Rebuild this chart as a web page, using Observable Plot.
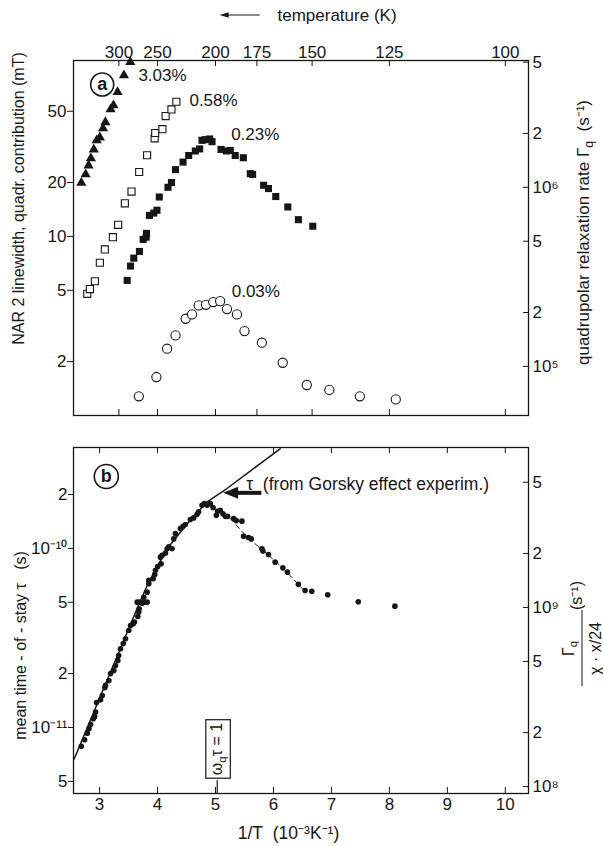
<!DOCTYPE html>
<html>
<head>
<meta charset="utf-8">
<script src="https://cdn.jsdelivr.net/npm/d3@7"></script>
<script src="https://cdn.jsdelivr.net/npm/@observablehq/plot@0.6"></script>
<style>
  html, body { margin: 0; padding: 0; background: #fff; }
  #chart { width: 603px; height: 846px; position: relative; }
  #chart svg { display: block; }
</style>
</head>
<body>
<div id="chart"></div>
<script>
// ---------------- data ----------------
const xDomain = [2.55, 10.4];          // 1/T (10^-3 K^-1)
const xTicks = [3, 4, 5, 6, 7, 8, 9, 10];
const tempTicksK = [300, 250, 200, 175, 150, 125, 100];

// panel (a): NAR 2 linewidth, quadrupolar contribution (mT)
const lwDomain = [1, 96];
const lwTicks = [2, 5, 10, 20, 50];
const rateTicksA = [1e5, 2e5, 5e5, 1e6, 2e6, 5e6];   // Γq (s^-1)
const rateFactorA = 5.32e4;                           // Γq per mT

const tri303 = [[2.685,19.9],[2.76,22.2],[2.81,24.9],[2.85,27.3],[2.90,30.6],[2.95,34.4],[3.005,35.7],[3.06,40.1],[3.10,43.4],[3.19,51.2],[3.24,53.9],[3.31,64.0],[3.42,79.3],[3.53,94.1]];
const openSq058 = [[2.788,4.78],[2.833,5.08],[2.919,5.62],[3.005,7.13],[3.091,8.46],[3.229,9.9],[3.32,11.6],[3.436,15.3],[3.551,17.8],[3.683,22.9],[3.82,28.4],[3.95,35.3],[3.96,37.8],[4.084,39.7],[4.14,47.0],[4.24,51.2],[4.325,56.5]];
const fillSq023 = [[3.476,5.68],[3.534,6.83],[3.59,7.56],[3.688,8.24],[3.752,9.62],[3.804,9.9],[3.81,10.4],[3.86,13.1],[3.935,13.5],[3.99,14.0],[4.03,16.6],[4.18,18.8],[4.24,20.0],[4.31,23.6],[4.44,26.0],[4.537,28.3],[4.652,30.0],[4.726,30.8],[4.767,34.4],[4.824,34.7],[4.90,35.0],[4.94,33.8],[5.095,30.6],[5.186,30.0],[5.255,30.2],[5.34,28.3],[5.48,27.5],[5.60,22.4],[5.64,22.2],[5.83,19.3],[5.914,18.5],[6.04,16.7],[6.248,14.6],[6.43,12.4],[6.678,11.4]];
const openCirc003 = [[3.677,1.28],[3.98,1.64],[4.165,2.36],[4.31,2.80],[4.485,3.47],[4.595,3.67],[4.71,4.12],[4.836,4.15],[4.96,4.30],[5.08,4.35],[5.198,3.93],[5.37,3.67],[5.50,2.96],[5.80,2.55],[6.16,1.97],[6.575,1.48],[6.964,1.39],[7.49,1.28],[8.11,1.23]];
const seriesLabels = [
  {x: 3.67, y: 79.4, label: "3.03%"},
  {x: 4.55, y: 57.0, label: "0.58%"},
  {x: 5.27, y: 37.1, label: "0.23%"},
  {x: 5.28, y: 4.95, label: "0.03%"}
];

// panel (b): mean time-of-stay τ (s)
const tauDomain = [4.28e-12, 3.66e-10];
const tauTicks = [5e-12, 1e-11, 2e-11, 5e-11, 1e-10, 2e-10];
const rateTicksB = [1e8, 2e8, 5e8, 1e9, 2e9, 5e9];   // Γq/(χ·x/24) (s^-1)
const tauPerRate = 4.68e-20;

const tauPoints = [[2.685,7.86e-12],[2.742,8.54e-12],[2.788,9.29e-12],[2.816,9.84e-12],[2.845,1.04e-11],[2.892,1.12e-11],[2.914,1.15e-11],[2.931,1.22e-11],[2.948,1.38e-11],[3.017,1.43e-11],[3.046,1.51e-11],[3.091,1.67e-11],[3.103,1.72e-11],[3.16,1.83e-11],[3.189,2.00e-11],[3.246,2.08e-11],[3.275,2.22e-11],[3.315,2.37e-11],[3.33,2.52e-11],[3.361,2.75e-11],[3.408,2.94e-11],[3.447,3.13e-11],[3.504,3.48e-11],[3.534,3.71e-11],[3.58,3.80e-11],[3.602,3.88e-11],[3.659,4.17e-11],[3.676,4.41e-11],[3.683,4.60e-11],[3.649,5.01e-11],[3.694,5.01e-11],[3.735,4.94e-11],[3.762,5.01e-11],[3.821,5.01e-11],[3.762,5.34e-11],[3.821,5.70e-11],[3.849,6.35e-11],[3.849,6.63e-11],[3.924,6.77e-11],[3.952,7.16e-11],[3.964,7.54e-11],[4.003,7.93e-11],[4.062,8.21e-11],[4.05,8.94e-11],[4.079,9.14e-11],[4.136,9.41e-11],[4.165,9.96e-11],[4.193,1.02e-10],[4.251,9.96e-11],[4.279,1.13e-10],[4.308,1.21e-10],[4.394,1.29e-10],[4.44,1.33e-10],[4.48,1.36e-10],[4.566,1.45e-10],[4.623,1.48e-10],[4.682,1.55e-10],[4.709,1.60e-10],[4.768,1.74e-10],[4.807,1.78e-10],[4.854,1.74e-10],[4.91,1.78e-10],[4.957,1.69e-10],[5.014,1.53e-10],[5.036,1.61e-10],[5.083,1.63e-10],[5.129,1.56e-10],[5.169,1.51e-10],[5.208,1.51e-10],[5.312,1.47e-10],[5.358,1.43e-10],[5.456,1.42e-10],[5.484,1.17e-10],[5.57,1.15e-10],[5.616,1.13e-10],[5.80,9.96e-11],[5.818,9.66e-11],[5.914,9.25e-11],[6.029,8.38e-11],[6.162,7.79e-11],[6.241,7.37e-11],[6.43,6.30e-11],[6.546,5.82e-11],[6.661,5.77e-11],[6.936,5.51e-11],[7.463,5.04e-11],[8.095,4.76e-11]];
const gorskyLine = [[2.553,6.62e-12],[2.587,6.98e-12],[3.189,2.04e-11],[3.706,5.12e-11],[3.849,6.49e-11],[4.165,9.96e-11],[4.509,1.37e-10],[4.854,1.82e-10],[5.198,2.16e-10],[5.656,2.79e-10],[6.115,3.60e-10]];
const dashFit = [[4.854,1.78e-10],[5.255,1.47e-10],[5.542,1.16e-10],[5.886,9.34e-11],[6.172,7.71e-11],[6.528,5.82e-11]];
const omegaQX = 5.03;
const gorskyNote = [{x: 5.53, y: 2.28e-10, label: "τ  (from Gorsky effect experim.)"}];
const gorskyArrow = {from: 5.80, to: 5.14, y: 2.03e-10};

// ---------------- helpers ----------------
const FONT = "'Liberation Sans', Helvetica, Arial, sans-serif";
const NARROW = "'Liberation Sans Narrow', 'Liberation Sans', Arial, sans-serif";
const INK = "#161616";
const FS = 17;
const SUP = {"-": "⁻", "0": "⁰", "1": "¹", "2": "²", "3": "³", "4": "⁴", "5": "⁵", "6": "⁶", "7": "⁷", "8": "⁸", "9": "⁹"};
const sup = s => String(s).split("").map(c => SUP[c] ?? c).join("");
function logLabel(v) {
  const e = Math.floor(Math.log10(v) + 1e-6);
  const m = Math.round(v / Math.pow(10, e));
  return m === 1 ? "10" + sup(e) : String(m);
}
const px = d => d[0], py = d => d[1];
const MID = {textAnchor: "middle", lineAnchor: "middle"};

const W = 603, ML = 73, MR = 75;
const FW = W - ML - MR;
const H1 = 440, MT1 = 60, MB1 = 25, FH1 = H1 - MT1 - MB1;
const H2 = 406, MT2 = 7, MB2 = 53, FH2 = H2 - MT2 - MB2;
const tempX = tempTicksK.map(t => 1000 / t);

// ---------------- panel (a) ----------------
const p1 = Plot.plot({
  width: W, height: H1,
  marginLeft: ML, marginRight: MR, marginTop: MT1, marginBottom: MB1,
  style: {fontFamily: FONT, fontSize: FS + "px", color: INK, background: "white", overflow: "visible"},
  x: {domain: xDomain},
  y: {type: "log", domain: lwDomain},
  marks: [
    Plot.frame({stroke: INK, strokeWidth: 1.3}),
    Plot.axisX(tempX, {anchor: "top", tickSize: 0, tickPadding: 3, label: null, fontSize: FS, tickFormat: d => String(Math.round(1000 / d))}),
    Plot.tickX(tempX, {x: d => d, insetBottom: FH1 - 6, stroke: INK}),
    Plot.tickX(tempX, {x: d => d, insetTop: FH1 - 6, stroke: INK}),
    Plot.axisY(lwTicks, {anchor: "left", tickSize: 6, tickPadding: 1, label: null, fontSize: FS, tickFormat: d => String(d)}),
    Plot.tickY(rateTicksA, {y: r => r / rateFactorA, insetLeft: FW - 5, stroke: INK}),
    Plot.text(rateTicksA, {y: r => r / rateFactorA, frameAnchor: "right", dx: 4, textAnchor: "start", lineAnchor: "middle", text: logLabel, fontSize: FS}),
    Plot.dot(openCirc003, {x: px, y: py, r: 4.6, stroke: INK, strokeWidth: 1.1, fill: "white"}),
    Plot.dot(openSq058, {x: px, y: py, symbol: "square", r: 4.0, stroke: INK, strokeWidth: 1.1, fill: "white"}),
    Plot.dot(fillSq023, {x: px, y: py, symbol: "square", r: 4.0, fill: INK}),
    Plot.dot(tri303, {x: px, y: py, symbol: "triangle", r: 3.8, fill: INK}),
    Plot.text(seriesLabels, {x: "x", y: "y", text: "label", textAnchor: "start", fontSize: FS}),
    Plot.dot(["a"], {x: null, y: null, frameAnchor: "top-left", dx: 28.7, dy: 24, r: 11.5, stroke: INK, strokeWidth: 1.6}),
    Plot.text(["a"], {frameAnchor: "top-left", dx: 28.7, dy: 23.5, text: d => d, fontSize: 18, fontWeight: "bold", ...MID}),
    Plot.text(["temperature (K)"], {frameAnchor: "top-left", dx: 204, dy: -45, text: d => d, textAnchor: "start", lineAnchor: "middle", fontSize: FS}),
    Plot.text(["NAR 2 linewidth, quadr. contribution (mT)"], {frameAnchor: "top-left", dx: -55, dy: 138, rotate: -90, text: d => d, fontSize: 16, fontFamily: NARROW, ...MID}),
    Plot.text(["quadrupolar relaxation rate Γq  (s⁻¹)"], {frameAnchor: "top-right", dx: 55, dy: 172, rotate: -90, text: d => d, fontSize: 17, ...MID})
  ]
});

// ---------------- panel (b) ----------------
const p2 = Plot.plot({
  width: W, height: H2,
  marginLeft: ML, marginRight: MR, marginTop: MT2, marginBottom: MB2,
  style: {fontFamily: FONT, fontSize: FS + "px", color: INK, background: "white", overflow: "visible"},
  x: {domain: xDomain},
  y: {type: "log", domain: tauDomain},
  marks: [
    Plot.frame({stroke: INK, strokeWidth: 1.3}),
    Plot.axisX(xTicks, {anchor: "bottom", tickSize: 0, tickPadding: 4, label: null, fontSize: FS}),
    Plot.tickX(xTicks, {x: d => d, insetBottom: FH2 - 6, stroke: INK}),
    Plot.tickX(xTicks, {x: d => d, insetTop: FH2 - 6, stroke: INK}),
    Plot.axisY(tauTicks, {anchor: "left", tickSize: 5, tickPadding: 1, label: null, fontSize: FS, tickFormat: logLabel}),
    Plot.tickY(rateTicksB, {y: r => r * tauPerRate, insetLeft: FW - 5, stroke: INK}),
    Plot.text(rateTicksB, {y: r => r * tauPerRate, frameAnchor: "right", dx: 4, textAnchor: "start", lineAnchor: "middle", text: logLabel, fontSize: FS}),
    Plot.line(gorskyLine, {x: px, y: py, stroke: INK, strokeWidth: 1.5, clip: true}),
    Plot.line(dashFit, {x: px, y: py, stroke: INK, strokeWidth: 1, strokeDasharray: "5,4"}),
    Plot.dot(tauPoints, {x: px, y: py, r: 2.8, fill: INK}),
    Plot.ruleX([omegaQX], {x: d => d, insetTop: FH2 - 13, stroke: INK, strokeWidth: 1.2}),
    Plot.text([omegaQX], {x: d => d, frameAnchor: "bottom", dy: -44.5, rotate: -90, text: () => "ωqτ = 1", fontSize: 16, ...MID}),
    Plot.text(gorskyNote, {x: "x", y: "y", text: "label", textAnchor: "start", fontSize: 17.5}),
    Plot.dot(["b"], {x: null, y: null, frameAnchor: "top-left", dx: 32.8, dy: 29, r: 12, stroke: INK, strokeWidth: 1.6}),
    Plot.text(["b"], {frameAnchor: "top-left", dx: 32.8, dy: 28.5, text: d => d, fontSize: 18, fontWeight: "bold", ...MID}),
    Plot.text(["mean time - of - stay τ\u00a0\u00a0\u00a0(s)"], {frameAnchor: "top-left", dx: -53, dy: 198, rotate: -90, text: d => d, fontSize: 16, fontFamily: NARROW, ...MID}),
    Plot.text(["1/T\u00a0\u00a0(10⁻³K⁻¹)"], {frameAnchor: "bottom", dx: -12.5, dy: 40, text: d => d, fontSize: 17.5, ...MID}),
    Plot.text(["Γq"], {frameAnchor: "top-right", dx: 40, dy: 201, rotate: -90, text: d => d, fontSize: 16, ...MID}),
    Plot.text(["χ · x/24"], {frameAnchor: "top-right", dx: 67, dy: 201, rotate: -90, text: d => d, fontSize: 16, ...MID}),
    Plot.text(["(s⁻¹)"], {frameAnchor: "top-right", dx: 48, dy: 148, rotate: -90, text: d => d, fontSize: 16, ...MID})
  ]
});

const root = document.getElementById("chart");
root.append(p1, p2);

// ---------------- post-processing (subscripts, boxes, arrows) ----------------
const NS = "http://www.w3.org/2000/svg";
function subscriptify(svg, token, base, sub) {
  svg.querySelectorAll("text").forEach(t => {
    if (t.children.length === 0 && t.textContent.includes(token)) {
      const parts = t.textContent.split(token);
      t.textContent = "";
      const mk = (txt, attrs = {}) => {
        const s = document.createElementNS(NS, "tspan");
        s.textContent = txt;
        for (const k in attrs) s.setAttribute(k, attrs[k]);
        t.appendChild(s);
      };
      mk(parts[0] + base);
      mk(sub, {dy: "0.3em", "font-size": "0.72em"});
      mk(parts.slice(1).join(token), {dy: "-0.22em"});
    }
  });
}
subscriptify(p1, "Γq", "Γ", "q");
subscriptify(p2, "Γq", "Γ", "q");
subscriptify(p2, "ωq", "ω", "q");

// box around the ωqτ = 1 label (measured from the rendered text)
{
  const svgBox = p2.getBoundingClientRect();
  p2.querySelectorAll("text").forEach(t => {
    if (t.textContent.includes("= 1")) {
      const b = t.getBoundingClientRect();
      d3.select(p2).append("rect")
        .attr("x", b.left - svgBox.left - 2.5).attr("y", b.top - svgBox.top - 3)
        .attr("width", b.width + 5).attr("height", b.height + 6)
        .attr("fill", "none").attr("stroke", INK).attr("stroke-width", 1.2);
    }
  });
}

// fraction bar for right label of panel (b)
d3.select(p2).append("line")
  .attr("x1", W - MR + 54).attr("x2", W - MR + 54)
  .attr("y1", MT2 + 163).attr("y2", MT2 + 239)
  .attr("stroke", INK).attr("stroke-width", 1);

// thick arrow pointing at the Gorsky line
{
  const sx = p2.scale("x"), sy = p2.scale("y");
  const x0 = sx.apply(gorskyArrow.from), x1 = sx.apply(gorskyArrow.to), y = sy.apply(gorskyArrow.y);
  const g = d3.select(p2).append("g").attr("fill", INK).attr("stroke", INK);
  g.append("line").attr("x1", x0).attr("x2", x1 + 12).attr("y1", y).attr("y2", y).attr("stroke-width", 4);
  g.append("path").attr("d", `M${x1},${y} L${x1 + 15},${y - 6} L${x1 + 15},${y + 6} Z`).attr("stroke", "none");
}
// small arrow before "temperature (K)"
{
  const sx = p1.scale("x");
  const xt = sx.apply(5.08), xe = sx.apply(5.77), y = 15;
  const g = d3.select(p1).append("g").attr("fill", INK).attr("stroke", INK);
  g.append("line").attr("x1", xt + 6).attr("x2", xe).attr("y1", y).attr("y2", y).attr("stroke-width", 1.2);
  g.append("path").attr("d", `M${xt},${y} L${xt + 9},${y - 2.8} L${xt + 9},${y + 2.8} Z`).attr("stroke", "none");
}
</script>
</body>
</html>
